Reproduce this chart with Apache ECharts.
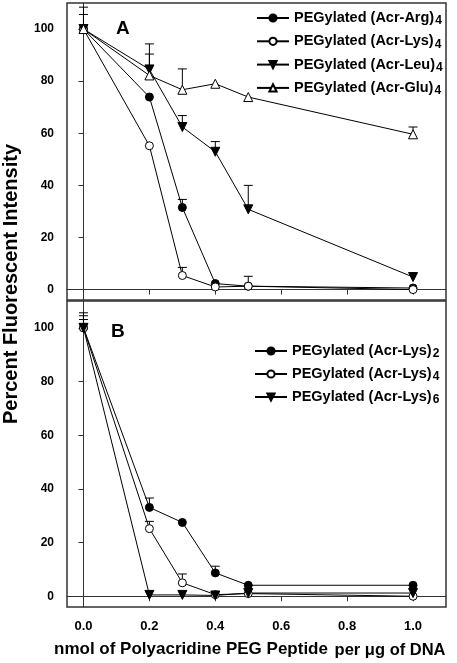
<!DOCTYPE html>
<html><head><meta charset="utf-8">
<script src="https://cdn.jsdelivr.net/npm/echarts@6/dist/echarts.min.js"></script>
<style>html,body{margin:0;padding:0;background:#fff}#c{width:457px;height:663px}</style>
</head><body><div id="c"></div>
<script>
// ---- data ----
const xVals = [0, 0.2, 0.3, 0.4, 0.5, 1.0];
const xTicks = [0, 0.2, 0.4, 0.6, 0.8, 1.0];
const yTicks = [0, 20, 40, 60, 80, 100];

// Panel A
const argA = [100, 73.9, 31.5, 2.3, 1.3, 0.6];
const argAErr = [0, 0, 3.1, 0, 0, 0];
const lysA = [100, 55.2, 5.4, 1.0, 1.3, 0];
const lysAErr = [0, 0, 3.1, 0, 3.8, 0];
const leuA = [100, 84.5, 62.4, 52.9, 30.8, 4.8];
const leuAErr = [8.4, 9.8, 4.4, 3.9, 9.2, 0];
const gluA = [100, 82.2, 76.7, 79.0, 73.9, 59.6];
const gluAErr = [5.6, 8.2, 8.0, 0, 0, 2.8];

// Panel B
const lys2B = [100, 33.1, 27.5, 8.7, 4.1, 4.1];
const lys2BErr = [5.6, 3.5, 0, 2.5, 0, 0];
const lys4B = [100, 25.2, 5.0, 0.6, 1.0, 0];
const lys4BErr = [4.5, 2.7, 3.3, 0, 0, 0];
const lys6B = [100, 0.5, 0.5, 0.3, 1.2, 1.2];
const lys6BErr = [3.1, 0, 0, 0, 0, 0];

const FONT = 'Liberation Sans, Arial, sans-serif';

function pts(vals) { return xVals.map((x, i) => [x, vals[i]]); }
function errPts(vals, errs) { return xVals.map((x, i) => [x, vals[i], errs[i]]); }

function lineSeries(name, vals, gi, kind) {
  const filled = kind === 'fc' || kind === 'ft';
  const tri = kind === 'ft' || kind === 'ot';
  return {
    type: 'line', name: name, xAxisIndex: gi, yAxisIndex: gi,
    data: pts(vals), z: 5,
    symbol: tri ? 'triangle' : 'circle',
    symbolRotate: kind === 'ft' ? 180 : 0,
    symbolSize: tri ? 9 : 8,
    lineStyle: { color: '#000', width: 1 },
    itemStyle: { color: filled ? '#000' : '#fff', borderColor: '#000', borderWidth: 1 },
    emphasis: { disabled: true }, animation: false
  };
}
function errSeries(vals, errs, gi) {
  return {
    type: 'custom', xAxisIndex: gi, yAxisIndex: gi, z: 3, silent: true, animation: false,
    data: errPts(vals, errs),
    renderItem: function (params, api) {
      const e = api.value(2);
      if (!e) return null;
      const p0 = api.coord([api.value(0), api.value(1)]);
      const p1 = api.coord([api.value(0), api.value(1) + e]);
      const st = { stroke: '#000', lineWidth: 1 };
      return { type: 'group', children: [
        { type: 'line', shape: { x1: p0[0], y1: p0[1], x2: p1[0], y2: p1[1] }, style: st },
        { type: 'line', shape: { x1: p1[0] - 4.5, y1: p1[1], x2: p1[0] + 4.5, y2: p1[1] }, style: st }
      ]};
    }
  };
}

const namesA = ['A|PEGylated (Acr-Arg)|4', 'A|PEGylated (Acr-Lys)|4', 'A|PEGylated (Acr-Leu)|4', 'A|PEGylated (Acr-Glu)|4'];
const namesB = ['B|PEGylated (Acr-Lys)|2', 'B|PEGylated (Acr-Lys)|4', 'B|PEGylated (Acr-Lys)|6'];

function xAxis(gi) {
  return {
    type: 'value', gridIndex: gi, min: -0.05, max: 1.1,
    splitLine: { show: false },
    axisLine: { show: true, lineStyle: { color: '#333', width: 1 } },
    axisTick: { show: true, length: 5, inside: false, customValues: xTicks, lineStyle: { color: '#333' } },
    axisLabel: { show: gi === 1, customValues: xTicks, margin: 13, color: '#000', fontFamily: FONT, fontWeight: 'bold', fontSize: 13,
      formatter: v => v.toFixed(1) }
  };
}
function yAxis(gi) {
  return {
    type: 'value', gridIndex: gi, min: -4, max: 110,
    splitLine: { show: false },
    axisLine: { show: true, lineStyle: { color: '#333', width: 1 } },
    axisTick: { show: true, length: 5, inside: false, customValues: yTicks, lineStyle: { color: '#333' } },
    axisLabel: { customValues: yTicks, margin: 13, color: '#000', fontFamily: FONT, fontWeight: 'bold', fontSize: 12 }
  };
}
const richTxt = {
  n: { fontFamily: FONT, fontWeight: 'bold', fontSize: 14.5, color: '#000', lineHeight: 14 },
  s: { fontFamily: FONT, fontWeight: 'bold', fontSize: 12, color: '#000', lineHeight: 14, padding: [6, 0, 0, 1] }
};
function legendFmt(name) {
  const p = name.split('|');
  return '{n|' + p[1] + '}{s|' + p[2] + '}';
}

const option = {
  backgroundColor: '#fff',
  animation: false,
  grid: [
    { left: 67, top: 3, width: 379, height: 297, show: true, borderColor: '#333', borderWidth: 1.5, backgroundColor: 'transparent' },
    { left: 67, top: 301, width: 379, height: 306, show: true, borderColor: '#333', borderWidth: 1.5, backgroundColor: 'transparent' }
  ],
  xAxis: [xAxis(0), xAxis(1)],
  yAxis: [yAxis(0), yAxis(1)],
  legend: [
    { data: namesA, orient: 'vertical', left: 251, top: 4, itemWidth: 32, itemHeight: 9, itemGap: 5.3,
      formatter: legendFmt, textStyle: { rich: richTxt }, selectedMode: false },
    { data: namesB, orient: 'vertical', left: 249, top: 337, itemWidth: 32, itemHeight: 9, itemGap: 5,
      formatter: legendFmt, textStyle: { rich: richTxt }, selectedMode: false }
  ],
  graphic: [
    { type: 'text', left: 116, top: 19, style: { text: 'A', font: 'bold 19px ' + FONT, fill: '#000' } },
    { type: 'text', left: 111, top: 322, style: { text: 'B', font: 'bold 19px ' + FONT, fill: '#000' } },
    { type: 'text', x: 11, y: 284, rotation: Math.PI / 2,
      style: { text: 'Percent Fluorescent Intensity', font: 'bold 20px ' + FONT, fill: '#000', align: 'center', verticalAlign: 'middle' } },
    { type: 'text', left: 54, top: 641,
      style: { text: '{m|nmol of Polyacridine PEG Peptide}  {p|per \u03BCg of DNA}', fill: '#000',
        rich: { m: { font: 'bold 17px ' + FONT, fill: '#000' }, p: { font: 'bold 16.5px ' + FONT, fill: '#000', padding: [2, 0, 0, 0] } } } }
  ],
  series: [
    errSeries(argA, argAErr, 0), errSeries(lysA, lysAErr, 0), errSeries(leuA, leuAErr, 0), errSeries(gluA, gluAErr, 0),
    errSeries(lys2B, lys2BErr, 1), errSeries(lys4B, lys4BErr, 1), errSeries(lys6B, lys6BErr, 1),
    lineSeries(namesA[0], argA, 0, 'fc'),
    lineSeries(namesA[1], lysA, 0, 'oc'),
    lineSeries(namesA[2], leuA, 0, 'ft'),
    lineSeries(namesA[3], gluA, 0, 'ot'),
    lineSeries(namesB[0], lys2B, 1, 'fc'),
    lineSeries(namesB[1], lys4B, 1, 'oc'),
    lineSeries(namesB[2], lys6B, 1, 'ft')
  ]
};
const chart = echarts.init(document.getElementById('c'), null, { renderer: 'canvas' });
chart.setOption(option);
</script></body></html>
